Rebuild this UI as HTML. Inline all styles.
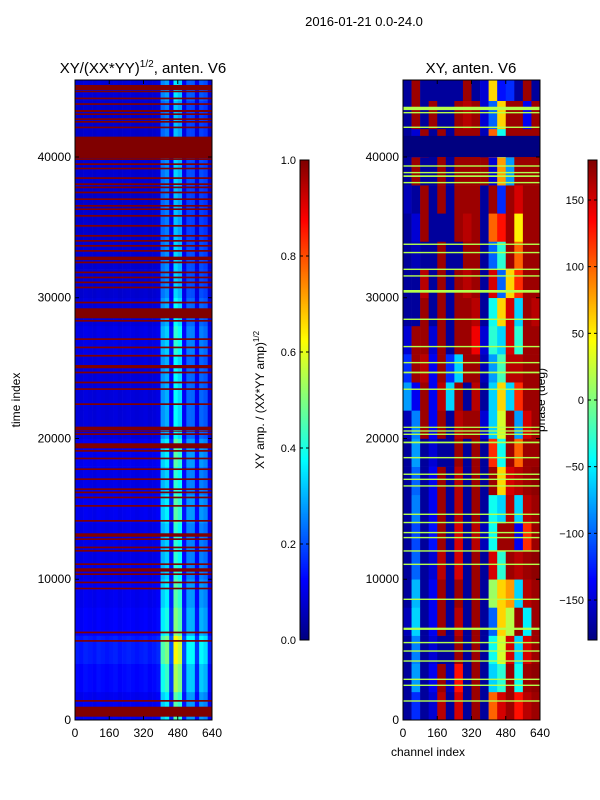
<!DOCTYPE html>
<html><head><meta charset="utf-8"><style>
body{margin:0;background:#fff;}
svg{display:block;font-family:"Liberation Sans","DejaVu Sans",sans-serif;}
</style></head><body>
<svg id="fig" width="600" height="800" viewBox="0 0 600 800" xmlns="http://www.w3.org/2000/svg">
<rect width="600" height="800" fill="#fff"/>
<text x="364" y="26" font-size="13" text-anchor="middle">2016-01-21 0.0-24.0</text>
<text x="143" y="73" font-size="15" text-anchor="middle">XY/(XX*YY)<tspan font-size="10" dy="-6">1/2</tspan><tspan dy="6">, anten. V6</tspan></text>
<text x="471" y="73" font-size="15" text-anchor="middle">XY, anten. V6</text>
<text x="20" y="400" font-size="12" text-anchor="middle" transform="rotate(-90 20 400)">time index</text>
<text x="428" y="756" font-size="12" text-anchor="middle">channel index</text>
<text x="264" y="400" font-size="12" text-anchor="middle" transform="rotate(-90 264 400)">XY amp. / (XX*YY amp)<tspan font-size="8" dy="-5">1/2</tspan></text>
<text x="545" y="400" font-size="12" text-anchor="middle" transform="rotate(-90 545 400)">phase (deg)</text>
<g id="left"></g><g id="right"></g><g id="cb"></g>
</svg>
<script>
const channelBins=[0,20,40,60,80,100,120,140,160,180,200,220,240,260,280,300,320,340,360,380,400,420,440,460,480,500,520,540,560,580,600,620];
const ampColumnProfile=[0.1,0.095,0.105,0.1,0.095,0.105,0.1,0.095,0.1,0.105,0.095,0.1,0.105,0.1,0.095,0.1,0.105,0.095,0.1,0.11,0.3,0.33,0.14,0.42,0.38,0.13,0.25,0.25,0.12,0.25,0.23,0.1];
const timeSegments=[0,2000,4000,6000,8000,10000,12000,14000,16000,18000,20000,22000,24000,26000,28000,30000,32000,34000,36000,38000,40000,42000,44000];
const ampRowGain=[1.1,1.3,1.5,1.2,1.1,1.0,1.0,1.1,1.0,1.1,0.9,0.9,0.9,1.0,0.9,0.8,0.8,0.75,0.75,0.8,0.75,0.75,0.85];
const ampFlagBands=[[44760,45115],[44600,44710],[44100,44220],[43700,43820],[43200,43340],[42985,43100],[42630,42750],[42440,42560],[42040,42160],[39910,41445],[39790,39900],[39430,39550],[39125,39240],[38440,38560],[38010,38130],[37780,37900],[37420,37540],[36945,37060],[36470,36590],[36235,36350],[35760,35880],[35050,35170],[34340,34460],[33985,34100],[33630,33750],[33270,33390],[32680,32920],[32450,32570],[31740,31860],[31380,31500],[31030,31150],[30670,30790],[29600,29720],[28540,29250],[28300,28420],[27000,27120],[26410,26530],[25820,25940],[24990,25220],[24630,24750],[23920,24040],[23450,23570],[22380,22500],[20600,20840],[20485,20560],[20250,20370],[19300,19660],[19060,19180],[18520,18640],[17760,17880],[17050,17170],[16340,16460],[16110,16230],[15750,15870],[15155,15270],[14090,14210],[13020,13265],[12790,12910],[12200,12320],[11960,12080],[11010,11130],[10540,10780],[10300,10420],[9715,9830],[9285,9400],[6160,6280],[5560,5680],[1300,1420],[235,945]];
const phaseChannelBins=[0,40,80,120,160,200,240,280,320,360,400,440,480,520,560,600];
const phaseRows=[
[-170,-120,-170,-150,160,-170,150,-170,170,-170,100,150,170,130,160,170],
[-170,-80,-170,-140,170,-160,130,-170,170,-170,-60,-30,170,-40,170,175],
[-170,-90,-170,-150,-170,-170,170,-170,170,-170,-40,30,150,-60,150,170],
[-160,-60,-170,-140,170,-170,160,-170,170,-170,-100,60,20,170,-50,170],
[-170,-70,-170,-140,170,-170,170,-170,170,-170,10,60,80,-60,160,170],
[-170,-100,-170,-150,160,-170,150,-170,170,-170,150,-30,170,160,170,175],
[-170,-110,-170,-130,170,-170,150,-170,160,-160,-40,170,170,-140,120,170],
[-170,-90,-170,-140,170,-170,160,-170,170,-170,-40,-60,160,-60,160,170],
[-170,-100,-170,-140,170,-170,160,-170,170,-170,170,60,150,160,170,175],
[-170,-80,-170,-150,-170,-170,170,-170,170,-170,120,-40,170,100,170,170],
[-160,-90,170,-140,170,-170,160,170,170,-150,-60,30,170,-80,150,170],
[-80,-140,170,-140,160,-60,170,-170,160,-170,-60,60,-60,120,170,170],
[-120,170,160,-140,170,-120,-60,170,170,-160,-80,-20,160,160,170,170],
[-150,170,170,-150,170,-170,170,170,140,-150,-30,-60,150,-30,170,170],
[-170,-170,170,-170,170,-170,170,170,160,-170,-40,60,150,-60,170,160],
[-170,-170,160,-170,170,-170,170,160,170,-170,150,-100,60,120,170,170],
[-170,-160,-170,-170,170,-170,-170,170,170,-170,-100,-30,170,100,170,170],
[-170,-150,170,-170,-170,-170,170,160,170,-170,100,130,170,50,170,170],
[-160,-170,170,-170,170,-170,170,170,170,-170,170,-120,170,150,170,170],
[-170,170,-170,-170,170,-170,170,170,170,170,-150,80,-80,170,170,170],
[-170,-150,170,-170,170,-170,170,170,170,-160,100,-40,170,170,170,170],
[-170,170,-170,170,-170,-170,170,160,170,-150,-100,60,170,170,-140,170],
[-170,170,-170,-170,-170,-170,-170,170,-170,-150,60,-130,-120,-170,170,-170]];
const phaseFlagBands=[[43330,43570],[43100,43200],[42060,42160],[39310,39410],[38840,38940],[38580,38700],[38130,38230],[33750,33850],[33160,33260],[31970,32070],[31500,31600],[30360,30550],[28420,28520],[26480,26580],[25340,25440],[24630,24750],[23450,23550],[20750,20840],[20485,20580],[20250,20350],[19660,19780],[18590,18690],[17410,17510],[17050,17150],[16580,16680],[14565,14665],[13980,14080],[13265,13365],[12910,13010],[11960,12060],[11010,11110],[8526,8626],[6400,6560],[5450,5550],[4850,4950],[4140,4240],[2840,2940],[2415,2515],[1300,1400]];
const phaseDeadBands=[[40000,41500]];
const xTicks=[0,160,320,480,640];
const yTicks=[0,10000,20000,30000,40000];
const ampTicks=[0,0.2,0.4,0.6,0.8,1.0];
const phaseTicks=[-150,-100,-50,0,50,100,150];

const NS="http://www.w3.org/2000/svg";
const TMAX=45470, CMAX=640, Y0=720, Y1=80;
function jet(v){v=Math.max(0,Math.min(1,v));
 const f=(x)=>Math.max(0,Math.min(1,x));
 const r=f(Math.min(4*v-1.5,-4*v+4.5)), g=f(Math.min(4*v-0.5,-4*v+3.5)), b=f(Math.min(4*v+0.5,-4*v+2.5));
 return `rgb(${Math.round(r*255)},${Math.round(g*255)},${Math.round(b*255)})`;}
function mk(parent,tag,attrs){const e=document.createElementNS(NS,tag);for(const k in attrs)e.setAttribute(k,attrs[k]);parent.appendChild(e);return e;}
function yScale(t){return Y0-(t/TMAX)*(Y0-Y1);}
function makeX(x0){return c=>x0+(c/CMAX)*137;}

function axes(g,x0,name){
 const xs=makeX(x0);
 xTicks.forEach(v=>{const x=xs(v);
  const l=mk(g,'line',{x1:x,x2:x,y1:Y0,y2:Y0-4,stroke:'#000'});
  
  const l2=mk(g,'line',{x1:x,x2:x,y1:Y1,y2:Y1+4,stroke:'#000'});
  
  const t=mk(g,'text',{x:x,y:Y0+17,'font-size':12,'text-anchor':'middle'});t.textContent=v;
  });
 yTicks.forEach(v=>{const y=yScale(v);
  const l=mk(g,'line',{x1:x0,x2:x0+4,y1:y,y2:y,stroke:'#000'});
  
  const l2=mk(g,'line',{x1:x0+137,x2:x0+133,y1:y,y2:y,stroke:'#000'});
  
  const t=mk(g,'text',{x:x0-4,y:y+4,'font-size':12,'text-anchor':'end'});t.textContent=v;
  });
 const f=mk(g,'rect',{x:x0,y:Y1,width:137,height:Y0-Y1,fill:'none',stroke:'#000'});
 
}

(function(){const g=document.getElementById('left');const xs=makeX(75);
 timeSegments.forEach((t0,ri)=>{const t1=ri+1<timeSegments.length?timeSegments[ri+1]:TMAX;
  channelBins.forEach((c0,ci)=>{const c1=ci+1<channelBins.length?channelBins[ci+1]:CMAX;
   const v=ampColumnProfile[ci]*ampRowGain[ri];
   const r=mk(g,'rect',{x:xs(c0),y:yScale(t1),width:xs(c1)-xs(c0)+0.3,height:yScale(t0)-yScale(t1)+0.3,fill:jet(v)});
   });});
 ampFlagBands.forEach(b=>{const r=mk(g,'rect',{x:75,y:yScale(b[1]),width:137,height:Math.max(1,yScale(b[0])-yScale(b[1])),fill:jet(1)});
  });
 axes(g,75,'left-plot');})();

(function(){const g=document.getElementById('right');const xs=makeX(403);
 timeSegments.forEach((t0,ri)=>{const t1=ri+1<timeSegments.length?timeSegments[ri+1]:TMAX;
  phaseChannelBins.forEach((c0,ci)=>{const c1=ci+1<phaseChannelBins.length?phaseChannelBins[ci+1]:CMAX;
   const v=(phaseRows[ri][ci]+180)/360;
   const r=mk(g,'rect',{x:xs(c0),y:yScale(t1),width:xs(c1)-xs(c0)+0.3,height:yScale(t0)-yScale(t1)+0.3,fill:jet(v)});
   });});
 phaseDeadBands.forEach(b=>{const r=mk(g,'rect',{x:403,y:yScale(b[1]),width:137,height:yScale(b[0])-yScale(b[1]),fill:jet(0)});
  });
 phaseFlagBands.forEach(b=>{const r=mk(g,'rect',{x:403,y:yScale(b[1]),width:137,height:Math.max(1,yScale(b[0])-yScale(b[1])),fill:jet(0.55)});
  });
 axes(g,403,'right-plot');})();

(function(){const g=document.getElementById('cb');
 function bar(x,name,ticks,lo,hi){
  for(let i=0;i<240;i++){const v=i/240;
   const r=mk(g,'rect',{x:x,y:640-(i+1)*2,width:9,height:2.3,fill:jet(v+1/480)});
   }
  const f=mk(g,'rect',{x:x,y:160,width:9,height:480,fill:'none',stroke:'#000'});
  
  ticks.forEach(v=>{const y=640-(v-lo)/(hi-lo)*480;
   const l=mk(g,'line',{x1:x,x2:x+3,y1:y,y2:y,stroke:'#000'});
   
   const l2=mk(g,'line',{x1:x+9,x2:x+6,y1:y,y2:y,stroke:'#000'});
   
   const t=mk(g,'text',{x:x-4,y:y+4,'font-size':11,'text-anchor':'end'});
   t.textContent=(lo===0?v.toFixed(1):(v<0?'\u2212'+(-v):v));
   });}
 bar(300,'amp-colorbar',ampTicks,0,1);
 bar(588,'phase-colorbar',phaseTicks,-180,180);})();
</script>
</body></html>
